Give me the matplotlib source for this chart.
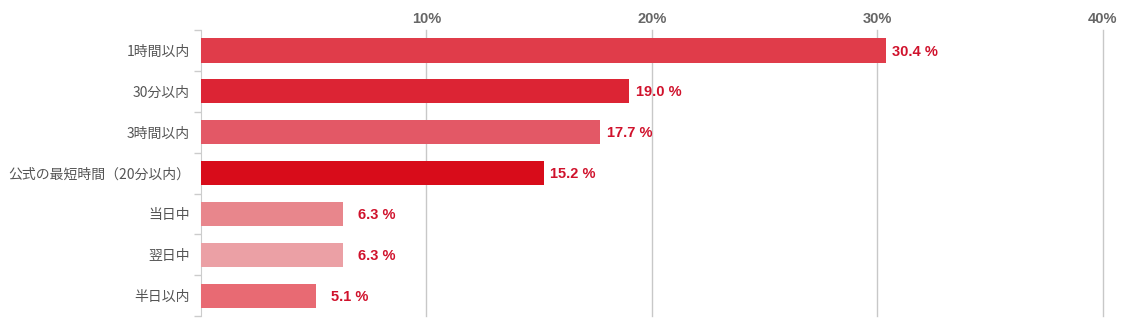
import matplotlib.pyplot as plt
from matplotlib.ticker import FixedLocator

plt.rcParams['font.family'] = ['Noto Sans CJK JP', 'DejaVu Sans']

categories = ['1時間以内', '30分以内', '3時間以内', '公式の最短時間（20分以内）',
              '当日中', '翌日中', '半日以内']
values = [30.4, 19.0, 17.7, 15.2, 6.3, 6.3, 5.1]
bar_colors = ['#e03c4a', '#dc2434', '#e35866', '#d80c1a',
              '#e8868c', '#eba0a5', '#e86a73']
x_ticks = [10, 20, 30, 40]

fig = plt.figure(figsize=(11.23, 3.31), dpi=100)
ax = fig.add_axes([0.179, 0.045, 0.803, 0.864])

pos = list(range(len(categories)))
ax.barh(pos, values, height=0.59, color=bar_colors, zorder=3)

# value labels, right-aligned in a fixed-width slot after each bar
for p, v in zip(pos, values):
    ax.annotate(f'{v:.1f} %', xy=(v, p), xytext=(52, -1), textcoords='offset pixels',
                ha='right', va='center', fontsize=10.5, fontweight='bold',
                color='#d0122c', family=['Liberation Sans', 'DejaVu Sans'], zorder=4)

ax.set_xlim(0, 40)
ax.set_ylim(len(categories) - 0.5, -0.5)

ax.xaxis.tick_top()
ax.set_xticks(x_ticks)
ax.set_xticklabels([f'{t}%' for t in x_ticks], fontsize=10.5, fontweight='bold',
                   color='#666666', family=['Liberation Sans', 'DejaVu Sans'])
ax.tick_params(axis='x', length=0, pad=3)
ax.grid(axis='x', color='#c8c8c8', linewidth=1, zorder=0)
for gl in ax.get_xgridlines():
    gl.set_clip_on(False)

ax.set_yticks(pos)
ax.set_yticklabels(categories, fontsize=10, color='#555555')
ax.yaxis.set_minor_locator(FixedLocator([p - 0.5 for p in pos] + [len(pos) - 0.5]))
ax.tick_params(axis='y', which='major', length=0, pad=8)
ax.tick_params(axis='y', which='minor', length=5, color='#cccccc', width=1)

for side in ['top', 'right', 'bottom']:
    ax.spines[side].set_visible(False)
ax.spines['left'].set_color('#cccccc')

fig.savefig('out.png', dpi=100)
